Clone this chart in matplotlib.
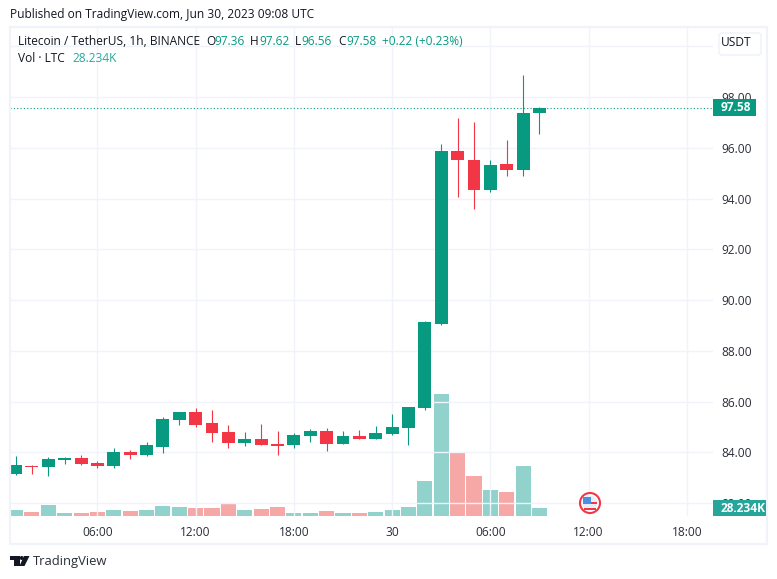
import matplotlib
matplotlib.use("Agg")
import matplotlib.pyplot as plt
from matplotlib.patches import Rectangle, FancyBboxPatch, Circle, Polygon, Wedge

plt.rcParams['font.family'] = ['Open Sans', 'DejaVu Sans']

# LTC/USDT hourly candles, first one is 01:00 on Jun 29
opens = [83.16, 83.48, 83.43, 83.70, 83.78, 83.58, 83.46, 84.02, 83.90, 84.21, 85.28,
         85.59, 85.16, 84.80, 84.37, 84.53, 84.33, 84.29, 84.65, 84.84, 84.33, 84.65,
         84.53, 84.73, 84.96, 85.75, 89.07, 95.89, 95.53, 94.35, 95.37, 95.14, 97.36]
highs = [83.86, 83.50, 83.82, 83.82, 83.90, 83.66, 84.17, 84.10, 84.41, 85.40, 85.60,
         85.75, 85.67, 85.08, 84.80, 85.12, 84.84, 84.76, 84.92, 84.96, 84.84, 84.88,
         85.04, 85.51, 85.79, 89.18, 96.13, 97.19, 97.00, 95.50, 96.32, 98.85, 97.62]
lows = [83.11, 83.16, 83.07, 83.52, 83.50, 83.38, 83.38, 83.74, 83.86, 83.98, 85.08,
        85.00, 84.41, 84.17, 84.25, 84.29, 83.90, 84.17, 84.41, 84.05, 84.33, 84.53,
        84.53, 84.69, 84.29, 85.67, 89.00, 94.07, 93.60, 94.27, 94.90, 94.90, 96.56]
closes = [83.50, 83.43, 83.74, 83.78, 83.54, 83.46, 84.02, 83.90, 84.29, 85.32, 85.59,
          85.08, 84.77, 84.37, 84.53, 84.29, 84.25, 84.69, 84.84, 84.33, 84.65, 84.53,
          84.76, 85.00, 85.79, 89.14, 95.89, 95.50, 94.35, 95.33, 95.14, 97.39, 97.58]
# volume in thousands of LTC
volumes = [21, 14, 39, 11, 11, 14, 21, 18, 21, 35, 32, 28, 28, 42, 21, 25, 32, 11, 11,
           18, 11, 11, 14, 21, 32, 124, 431, 222, 141, 92, 85, 177, 28.234]

price_ticks = [82, 84, 86, 88, 90, 92, 94, 96, 98, 100]
time_ticks = [5, 11, 17, 23, 29, 35, 41]
time_labels = ['06:00', '12:00', '18:00', '30', '06:00', '12:00', '18:00']

UP = '#089981'
DOWN = '#f23645'
GRID = '#f0f3fa'
TEXT = '#131722'

W, H = 777, 579
fig = plt.figure(figsize=(W / 100, H / 100), dpi=100, facecolor='white')

# chart area in pixels: x 10-713, y 27-516
ax = fig.add_axes([10 / W, 1 - 516 / H, 703 / W, 489 / H], zorder=2)
ax.patch.set_visible(False)
ax_vol = ax.twinx()
ax_vol.set_zorder(1)
ax.set_zorder(2)

xs = list(range(len(opens)))

# volume bars
vol_colors = ['#26a69a' if c >= o else '#ef5350' for o, c in zip(opens, closes)]
ax_vol.bar(xs, volumes, width=0.92, color=vol_colors, alpha=0.5, linewidth=0)
ax_vol.set_ylim(0, 1726)
ax_vol.set_yticks([])

# candles
colors = [UP if c >= o else DOWN for o, c in zip(opens, closes)]
ax.vlines(xs, lows, highs, colors=colors, linewidth=0.8, zorder=3)
bottoms = [min(o, c) for o, c in zip(opens, closes)]
heights = [abs(c - o) for o, c in zip(opens, closes)]
ax.bar(xs, heights, bottom=bottoms, width=0.79, color=colors, linewidth=0, zorder=4)

ax.axhline(closes[-1], color=UP, linewidth=0.8, linestyle=(0, (1, 2)), zorder=2)

ax.set_xlim(-0.34, 42.6)
ax.set_ylim(81.49, 100.76)
ax.set_xticks(time_ticks)
ax.set_xticklabels(time_labels)
ax.set_yticks(price_ticks)
ax.set_yticklabels(['%.2f' % p if p < 100 else '' for p in price_ticks])
ax.yaxis.tick_right()
ax.tick_params(axis='x', length=0, pad=7, labelsize=8.6, labelcolor='#2a2e39')
ax.tick_params(axis='y', length=0, pad=6, labelsize=8.6, labelcolor='#2a2e39')
ax.grid(True, color=GRID, linewidth=1)
ax.set_axisbelow(True)
for a in (ax, ax_vol):
    for s in a.spines.values():
        s.set_visible(False)

# page furniture drawn in pixel coordinates
over = fig.add_axes([0, 0, 1, 1], zorder=5)
over.set_xlim(0, W)
over.set_ylim(H, 0)
over.axis('off')

over.add_patch(Rectangle((9.5, 27), 757, 517, fill=False, edgecolor=GRID, linewidth=1.6))
over.text(10, 14.5, 'Published on TradingView.com, Jun 30, 2023 09:08 UTC', fontsize=8.6,
          color=TEXT, va='center')

# legend
over.text(18, 41.5, 'Litecoin / TetherUS, 1h, BINANCE', fontsize=8.6, color=TEXT, va='center')
legend_items = [(206, 'O'), (250, 'H'), (295, 'L'), (338, 'C')]
legend_vals = [(214, '97.36'), (259, '97.62'), (301, '96.56'), (346, '97.58'),
               (382, '+0.22 (+0.23%)')]
for x, s in legend_items:
    over.text(x, 41.5, s, fontsize=8.6, color=TEXT, va='center')
for x, s in legend_vals:
    over.text(x, 41.5, s, fontsize=8.6, color=UP, va='center')
over.text(18, 59, 'Vol · LTC', fontsize=8.6, color=TEXT, va='center')
over.text(72, 59, '28.234K', fontsize=8.6, color='#26a69a', va='center')

# unit box
over.add_patch(FancyBboxPatch((719, 33), 42, 22, boxstyle='round,pad=0,rounding_size=3',
                              facecolor='white', edgecolor=GRID, linewidth=1.2))
over.text(720.5, 43, 'USDT', fontsize=8.6, color=TEXT, va='center')

# last value tags
over.add_patch(Rectangle((713, 99), 43, 17, facecolor=UP, edgecolor='none'))
over.text(721, 107.5, '97.58', fontsize=8.6, color='white', va='center', fontweight='bold')
over.add_patch(Rectangle((713, 500), 53, 16, facecolor='#26a69a', edgecolor='none'))
over.text(721, 508.5, '28.234K', fontsize=8.6, color='white', va='center', fontweight='bold')

# US event flag
over.add_patch(Circle((590, 503), 10, facecolor='white', edgecolor=DOWN, linewidth=1.5))
over.add_patch(Wedge((590, 503), 7.5, 0, 360, facecolor='#e8eef8', edgecolor='none'))
over.add_patch(Rectangle((590, 501.5), 7, 2.5, facecolor=DOWN, edgecolor='none'))
over.add_patch(Rectangle((584, 507.5), 12, 2.5, facecolor=DOWN, edgecolor='none'))
over.add_patch(Rectangle((583, 496.5), 7.5, 7.5, facecolor='#4a90e2', edgecolor='none'))

# TradingView logo
over.add_patch(Polygon([(10, 556), (20, 556), (20, 566), (14, 566), (14, 560), (10, 560)],
                       facecolor=TEXT, edgecolor='none'))
over.add_patch(Circle((21.7, 558), 2, facecolor=TEXT, edgecolor='none'))
over.add_patch(Polygon([(24, 556), (29.5, 556), (24.5, 566), (19.5, 566)],
                       facecolor=TEXT, edgecolor='none'))
over.text(33, 561, 'TradingView', fontsize=9.4, color='#2a2e39', va='center')

fig.savefig('out.png', dpi=100)
